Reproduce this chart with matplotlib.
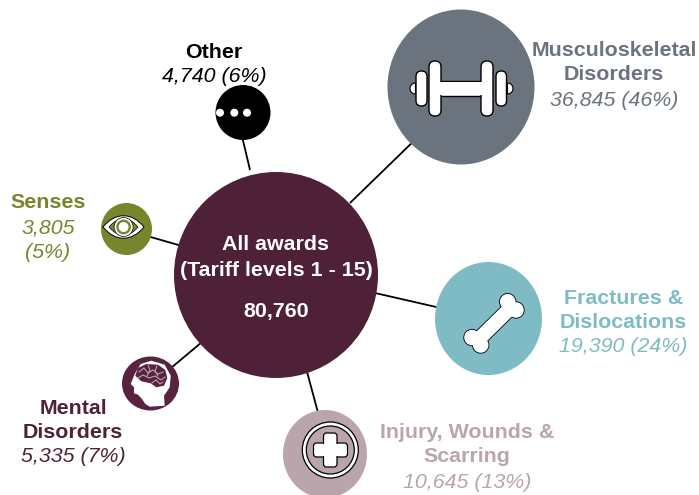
import copy
import matplotlib
matplotlib.use('Agg')
import matplotlib.pyplot as plt
from matplotlib.patches import Ellipse, Circle, Rectangle, FancyBboxPatch, Polygon, Wedge, PathPatch
from matplotlib.path import Path

plt.rcParams['font.family'] = ['Liberation Sans', 'DejaVu Sans']

# data
names = [['Musculoskeletal', 'Disorders'], ['Fractures &', 'Dislocations'],
         ['Injury, Wounds &', 'Scarring'], ['Mental', 'Disorders'], ['Senses'], ['Other']]
awards = ['36,845', '19,390', '10,645', '5,335', '3,805', '4,740']
shares = ['46%', '24%', '13%', '7%', '5%', '6%']
total_title = ['All awards', '(Tariff levels 1 - 15)']
total = '80,760'

# layout, all in reference pixels
colors = ['#6B737E', '#7FBBC4', '#B9A5AB', '#59233F', '#76862C', '#000000']
text_colors = ['#6B737E', '#7FBBC4', '#B9A5AB', '#4F2138', '#76862C', '#000000']
bubble_x = [461, 488.5, 325, 150.5, 126.5, 243]
bubble_y = [87, 318.5, 454, 383.5, 229, 112.5]
bubble_w = [147, 107, 84, 57, 51, 55]
bubble_h = [155, 113, 88, 54, 52, 55]
link_from = [(350, 203), (375, 293), (306, 368), (208, 337), (182, 246), (250, 170)]
link_to = [(420, 135), (445, 309), (320, 420), (165, 373), (140, 234), (241, 132)]
text_x = [614, 623.5, 467, 73, 48, 214]
text_y = [[50, 75, 100], [298, 322, 347], [432, 456, 482], [408, 433, 457], [203, 228, 253], [52, 76]]
centre = '#4F2138'
WHITE = 'white'
EDGE = 'black'
FS = 15.4

fig = plt.figure(figsize=(6.99, 4.95), dpi=100)
ax = fig.add_axes([0, 0, 1, 1])
ax.set_xlim(0, 699)
ax.set_ylim(495, 0)
ax.axis('off')


def outlined(shapes, lw=0.9, z=5):
    # edge pass first, then a white pass so the parts merge into one shape
    for s in shapes:
        w = copy.copy(s)
        s.set(facecolor=WHITE, edgecolor=EDGE, linewidth=lw * 2, zorder=z)
        ax.add_patch(s)
        w.set(facecolor=WHITE, edgecolor='none', linewidth=0, zorder=z + 0.1)
        ax.add_patch(w)


def rbox(x0, y0, x1, y1, r):
    return FancyBboxPatch((x0 + r, y0 + r), x1 - x0 - 2 * r, y1 - y0 - 2 * r,
                          boxstyle='round,pad=%f,rounding_size=%f' % (r, r))


def put(x, y, s, color, **kw):
    ax.text(x, y, s, color=color, fontsize=FS, ha='center', va='center', zorder=9, **kw)


# links sit behind the bubbles
for a, b in zip(link_from, link_to):
    ax.plot([a[0], b[0]], [a[1], b[1]], color='black', lw=1.3, zorder=1, solid_capstyle='butt')

ax.add_patch(Ellipse((276, 275), 204, 206, facecolor=centre, edgecolor='none', zorder=2))
for i in range(len(names)):
    ax.add_patch(Ellipse((bubble_x[i], bubble_y[i]), bubble_w[i], bubble_h[i],
                         facecolor=colors[i], edgecolor='none', zorder=2))

# labels
for i in range(len(names)):
    for j, line in enumerate(names[i]):
        put(text_x[i], text_y[i][j], line, text_colors[i], fontweight='bold')
    if names[i][0] == 'Senses':
        put(text_x[i], text_y[i][1], awards[i], text_colors[i], style='italic')
        put(text_x[i], text_y[i][2], '(%s)' % shares[i], text_colors[i], style='italic')
    else:
        put(text_x[i], text_y[i][len(names[i])], '%s (%s)' % (awards[i], shares[i]), text_colors[i], style='italic')

put(276, 244, total_title[0], 'white', fontweight='bold')
put(276, 270, total_title[1], 'white', fontweight='bold')
put(276, 312, total, 'white', fontweight='bold')

# dumbbell
ax.add_patch(Wedge((415.5, 88.5), 5.5, 90, 270, facecolor=WHITE, edgecolor=EDGE, lw=0.8, zorder=5))
ax.add_patch(Wedge((507.5, 88.5), 5.5, -90, 90, facecolor=WHITE, edgecolor=EDGE, lw=0.8, zorder=5))
ax.add_patch(Rectangle((438, 81), 46, 15, facecolor=WHITE, edgecolor=EDGE, lw=1.0, zorder=5))
for x0, x1, y0, y1, r in [(416, 427, 71, 106, 5.4), (496, 506.5, 71, 106, 5.2), (429, 441, 61, 116, 5.9), (481, 493, 61, 116, 5.9)]:
    b = rbox(x0, y0, x1, y1, r)
    b.set(facecolor=WHITE, edgecolor=EDGE, linewidth=1.0, zorder=6)
    ax.add_patch(b)
ax.add_patch(Rectangle((439, 82), 44, 13, facecolor=WHITE, edgecolor='none', zorder=7))

# eye
codes = [Path.MOVETO, Path.CURVE4, Path.CURVE4, Path.CURVE4, Path.CURVE4, Path.CURVE4, Path.CURVE4]
eye = Path([(103, 227), (115, 212), (132, 212), (144, 227), (132, 242), (115, 242), (103, 227)], codes)
eye_in = Path([(109, 227), (118, 216), (129, 216), (138, 227), (129, 238), (118, 238), (109, 227)], codes)
ax.add_patch(PathPatch(eye, facecolor=WHITE, edgecolor=EDGE, lw=0.7, zorder=5))
ax.add_patch(PathPatch(eye_in, facecolor=colors[4], edgecolor=EDGE, lw=0.5, zorder=6))
ax.add_patch(Circle((123.6, 227), 9.5, facecolor=WHITE, edgecolor=EDGE, lw=0.5, zorder=7))
ax.add_patch(Circle((123.6, 227), 7.4, facecolor=colors[4], edgecolor='none', zorder=8))
ax.add_patch(Circle((123.6, 227), 5, facecolor=WHITE, edgecolor='none', zorder=8.5))

# dots
for x in [220, 234.3, 247]:
    ax.add_patch(Circle((x, 112.7), 4, facecolor=WHITE, edgecolor='none', zorder=5))

# bone
outlined([Circle((507.7, 301.7), 7.8), Circle((516, 310), 7.8), Circle((472, 337.5), 7.8), Circle((480.7, 345), 7.8),
          Polygon([(505, 303.5), (515, 313.5), (484, 344), (474, 334)])], lw=0.6)

# cross
ax.add_patch(Circle((330.3, 450), 28, facecolor=WHITE, edgecolor=EDGE, lw=0.9, zorder=5))
ax.add_patch(Circle((330.3, 450), 24, facecolor=colors[2], edgecolor=EDGE, lw=0.9, zorder=6))
for r_ in [rbox(313.5, 443, 347.5, 457, 3), rbox(323.5, 433, 337, 467, 3)]:
    r_.set(facecolor=WHITE, edgecolor=EDGE, linewidth=0.9, zorder=7)
    ax.add_patch(r_)
ax.add_patch(Rectangle((322, 444), 17, 12, facecolor=WHITE, edgecolor='none', zorder=8))
ax.add_patch(Rectangle((324.5, 441), 11.5, 18, facecolor=WHITE, edgecolor='none', zorder=8))

# head and brain
head = [(134.7, 374), (130.7, 384), (134, 387.3), (134, 393.3), (138, 394.7), (142, 399), (145.3, 404), (149.7, 406.7),
        (164.7, 405.7), (164, 395.7), (169.7, 387.3), (170.7, 375.7), (164.7, 364.7), (151.3, 360.7), (140.7, 364)]
ax.add_patch(Polygon(head, closed=True, facecolor=WHITE, edgecolor='none', zorder=5))
brain = [(135.3, 375.7), (138, 368), (146.3, 364), (158, 364.7), (165.3, 370), (167.3, 378), (164, 385.7),
         (156.3, 387.3), (150.7, 383.3), (141.3, 381.3)]
ax.add_patch(Polygon(brain, closed=True, facecolor=colors[3], edgecolor='none', zorder=6))
squiggles = [([139, 144, 148, 153, 158, 163], [372, 368, 373, 370, 374, 372]),
             ([138, 143, 149, 155, 161, 165], [378, 375, 378, 376, 380, 377]),
             ([152, 156, 160, 163], [383, 380, 384, 382]),
             ([148, 150, 147], [365, 370, 376]),
             ([157, 155, 158], [366, 371, 376])]
for sx, sy in squiggles:
    ax.plot(sx, sy, color='#C9AEBC', lw=0.7, zorder=7)

fig.savefig('out.png', dpi=100, facecolor='white')
